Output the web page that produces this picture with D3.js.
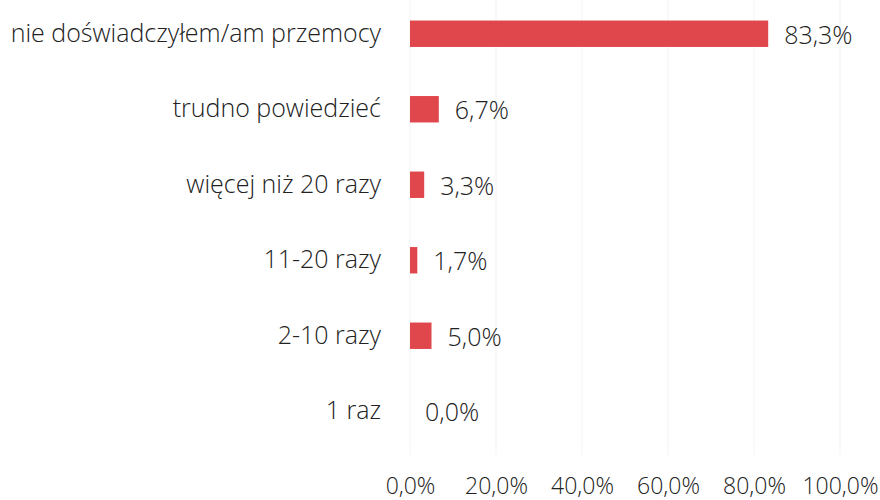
<!DOCTYPE html>
<html>
<head>
<meta charset="utf-8">
<script src="https://cdn.jsdelivr.net/npm/d3@7"></script>
<style>
  body { margin: 0; background: #fff; }
  text { font-family: "Open Sans", "Noto Sans", sans-serif; font-weight: 300; fill: #222; }
</style>
</head>
<body>
<div id="chart"></div>
<script>
var categories = ["nie doświadczyłem/am przemocy", "trudno powiedzieć", "więcej niż 20 razy", "11-20 razy", "2-10 razy", "1 raz"];
var values = [83.3, 6.7, 3.3, 1.7, 5.0, 0.0];
var ticks = [0, 20, 40, 60, 80, 100];

var fullWidth = 880;
var fullHeight = 500;

var svg = d3.select("#chart")
            .append("svg")
            .attr("width", fullWidth)
            .attr("height", fullHeight);

var xScale = d3.scaleLinear().domain([0, 100]).range([410, 840]);
var yScale = d3.scaleBand().domain(categories).range([-4, 449]).paddingInner(0.65).paddingOuter(0.325);

var fmt = function(v) { return v.toFixed(1).replace(".", ",") + "%"; };

// faint gridlines
svg.selectAll(".grid")
   .data(ticks)
   .enter()
   .append("line")
   .attr("x1", function(d) { return xScale(d); })
   .attr("x2", function(d) { return xScale(d); })
   .attr("y1", 0)
   .attr("y2", 455)
   .attr("stroke", "#f3f3f3")
   .attr("stroke-width", 1);

svg.selectAll(".bar")
   .data(values)
   .enter()
   .append("rect")
   .attr("x", xScale(0))
   .attr("y", function(d, i) { return yScale(categories[i]); })
   .attr("width", function(d) { return xScale(d) - xScale(0); })
   .attr("height", yScale.bandwidth())
   .attr("fill", "#e0474d");

// value labels
svg.selectAll(".val")
   .data(values)
   .enter()
   .append("text")
   .attr("x", function(d) { return xScale(d) + (d > 0 ? 16 : 15); })
   .attr("y", function(d, i) { return yScale(categories[i]) + yScale.bandwidth() / 2 + 1; })
   .attr("dy", "0.35em")
   .style("font-size", "25px")
   .text(function(d) { return fmt(d); });

// category labels
var yAxis = d3.axisLeft(yScale).tickSize(0).tickPadding(29);
var gy = svg.append("g").attr("transform", "translate(" + xScale(0) + ",0)").call(yAxis);
gy.select(".domain").remove();
gy.selectAll("text").style("font-size", "25px").attr("fill", "#222");

// x axis labels
var xAxis = d3.axisBottom(xScale).tickValues(ticks).tickSize(0).tickPadding(0).tickFormat(function(d) { return fmt(d); });
var gx = svg.append("g").attr("transform", "translate(0,478)").call(xAxis);
gx.select(".domain").remove();
gx.selectAll("text").style("font-size", "23px").attr("fill", "#222");
gx.attr("font-family", null);
gy.attr("font-family", null);
</script>
</body>
</html>
